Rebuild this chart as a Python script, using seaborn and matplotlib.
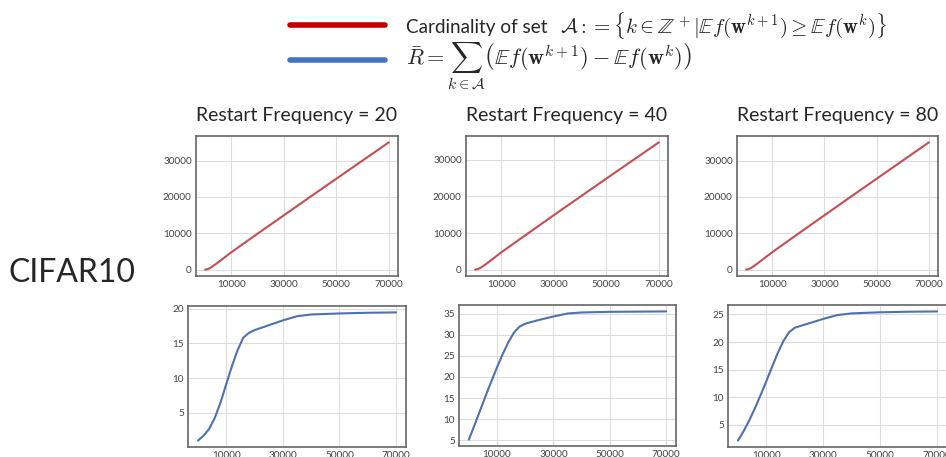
import numpy as np
import pandas as pd
import matplotlib
matplotlib.use("Agg")
import matplotlib.pyplot as plt
from matplotlib.lines import Line2D
import seaborn as sns

# restart frequencies (one column each)
freqs = [20, 40, 80]

# top row: cardinality of set A vs iteration
card_x = [0, 1000, 2000, 4000, 6000, 10000, 20000, 30000, 40000, 50000, 60000, 70000]
card_y = {
    20: [0, 150, 500, 1500, 2600, 4800, 9900, 14950, 20000, 25000, 30000, 35000],
    40: [0, 150, 480, 1450, 2550, 4750, 9850, 14900, 19900, 24900, 29850, 34800],
    80: [0, 150, 500, 1500, 2600, 4800, 9900, 14950, 20000, 25000, 30000, 35000],
}

# bottom row: R bar vs iteration
rbar_x = [0, 2000, 4000, 6000, 8000, 10000, 12000, 14000, 16000, 18000,
          20000, 25000, 30000, 35000, 40000, 50000, 60000, 70000]
rbar_y = {
    20: [1.0, 1.7, 2.7, 4.3, 6.5, 9.1, 11.7, 14.0, 15.8, 16.5,
         16.9, 17.6, 18.3, 18.9, 19.15, 19.3, 19.4, 19.45],
    40: [5.2, 8.6, 12.1, 15.6, 19.0, 22.3, 25.4, 28.2, 30.5, 31.9,
         32.6, 33.5, 34.3, 35.0, 35.25, 35.4, 35.45, 35.5],
    80: [2.1, 3.8, 5.8, 8.0, 10.4, 12.9, 15.5, 18.0, 20.2, 21.8,
         22.6, 23.4, 24.2, 24.9, 25.2, 25.4, 25.5, 25.55],
}
rbar_yticks = {20: [5, 10, 15, 20], 40: [5, 10, 15, 20, 25, 30, 35], 80: [5, 10, 15, 20, 25]}
x_ticks = [10000, 30000, 50000, 70000]

sns.set_style("whitegrid")
plt.rcParams["font.family"] = ["Lato", "DejaVu Sans"]
plt.rcParams["mathtext.fontset"] = "cm"

W, H = 946, 457
fig = plt.figure(figsize=(W / 100, H / 100), dpi=100)


def box(left, right, top, bottom):
    return [left / W, 1 - bottom / H, (right - left) / W, (bottom - top) / H]


top_boxes = [(196, 398, 136, 276), (466, 668, 136, 276), (737, 938, 136, 276)]
bot_boxes = [(188, 406, 306, 447), (459, 676, 305, 446), (728, 947, 305, 447)]


def style(ax):
    for s in ax.spines.values():
        s.set_color("#666666")
        s.set_linewidth(1.2)
    ax.grid(color="#dddddd", linewidth=0.8)
    ax.tick_params(labelsize=7.2, colors="#444444", length=0, pad=3)
    ax.set_xlabel("")
    ax.set_ylabel("")
    ax.set_xticks(x_ticks)


for i, f in enumerate(freqs):
    ax = fig.add_axes(box(*top_boxes[i]))
    df = pd.DataFrame({"iter": card_x, "card": card_y[f]})
    sns.lineplot(data=df, x="iter", y="card", ax=ax, color="#c44e52", linewidth=1.5)
    style(ax)
    ax.set_yticks([0, 10000, 20000, 30000])
    l, r, t, b = top_boxes[i]
    fig.text((l + r) / 2 / W, 1 - 116 / H, f"Restart Frequency = {f}",
             ha="center", va="center", fontsize=14)

    ax = fig.add_axes(box(*bot_boxes[i]))
    df = pd.DataFrame({"iter": rbar_x, "rbar": rbar_y[f]})
    sns.lineplot(data=df, x="iter", y="rbar", ax=ax, color="#4c72b0", linewidth=1.5)
    style(ax)
    ax.set_yticks(rbar_yticks[f])

fig.text(72 / W, 1 - 273 / H, "CIFAR10", ha="center", va="center", fontsize=23)

# legend
fig.add_artist(Line2D([290 / W, 385 / W], [1 - 25 / H, 1 - 25 / H], color="#c00000", lw=4))
fig.add_artist(Line2D([290 / W, 385 / W], [1 - 60 / H, 1 - 60 / H], color="#4472c4", lw=4))
fig.text(406 / W, 1 - 33 / H, "Cardinality of set", ha="left", va="baseline", fontsize=13.6)
fig.text(560 / W, 1 - 33 / H,
         r"$\mathcal{A} := \{k \in \mathbb{Z}^+ | \mathbb{E}f(\mathbf{w}^{k+1}) \geq \mathbb{E}f(\mathbf{w}^k)\}$",
         ha="left", va="baseline", fontsize=15)
fig.text(406 / W, 1 - 65 / H,
         r"$\bar{R} = \sum_{k \in \mathcal{A}} \left(\mathbb{E}f(\mathbf{w}^{k+1}) - \mathbb{E}f(\mathbf{w}^k)\right)$",
         ha="left", va="baseline", fontsize=16)

fig.savefig("out.png", dpi=100)
